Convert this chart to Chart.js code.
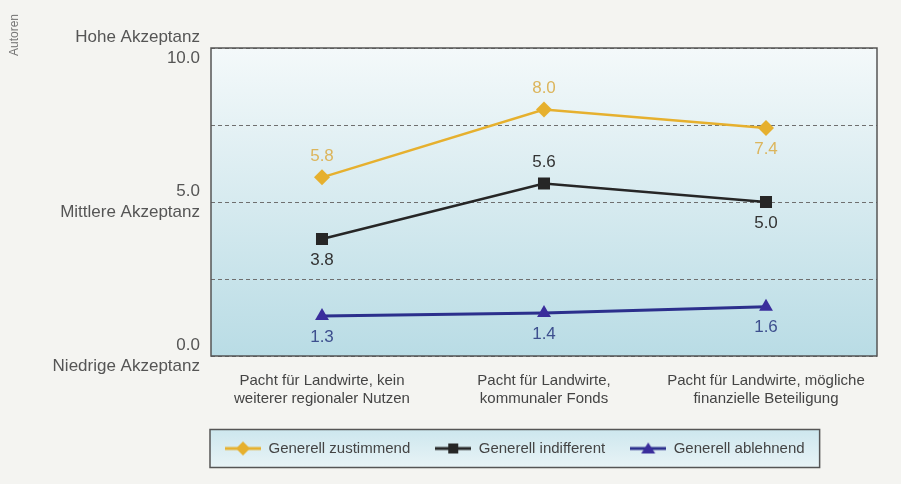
<!DOCTYPE html>
<html>
<head>
<meta charset="utf-8">
<script src="https://cdn.jsdelivr.net/npm/chart.js@4"></script>
<style>
  html, body { margin: 0; padding: 0; background: #f4f4f1; }
  #wrap { position: relative; width: 901px; height: 484px; }
  #autoren {
    position: absolute; left: 7px; top: 56px;
    transform: rotate(-90deg); transform-origin: left top;
    font: 12px "Liberation Sans", Arial, sans-serif; color: #777; white-space: nowrap;
  }
</style>
</head>
<body>
<div id="wrap">
  <canvas id="myChart" width="901" height="484"></canvas>
  <div id="autoren">Autoren</div>
</div>
<script>
const categories = [
  ["Pacht für Landwirte, kein", "weiterer regionaler Nutzen"],
  ["Pacht für Landwirte,", "kommunaler Fonds"],
  ["Pacht für Landwirte, mögliche", "finanzielle Beteiligung"],
];
const zustimmend = [5.8, 8.0, 7.4];
const indifferent = [3.8, 5.6, 5.0];
const ablehnend = [1.3, 1.4, 1.6];
const yTickLabels = {
  0: ["0.0", "Niedrige Akzeptanz"],
  5: ["5.0", "Mittlere Akzeptanz"],
  10: ["Hohe Akzeptanz", "10.0"],
};

const FONT = '"Liberation Sans", Arial, sans-serif';

// legend swatch: line with marker in the middle
function swatch(lineColor, markerColor, style) {
  const c = document.createElement("canvas");
  c.width = 36;
  c.height = 16;
  const g = c.getContext("2d");
  g.strokeStyle = lineColor;
  g.lineWidth = 3;
  g.beginPath();
  g.moveTo(0, 8);
  g.lineTo(36, 8);
  g.stroke();
  g.fillStyle = markerColor;
  g.beginPath();
  if (style === "diamond") {
    g.moveTo(18, 1); g.lineTo(25, 8); g.lineTo(18, 15); g.lineTo(11, 8);
  } else if (style === "square") {
    g.rect(13, 3, 10, 10);
  } else {
    g.moveTo(18, 2); g.lineTo(25, 13); g.lineTo(11, 13);
  }
  g.closePath();
  g.fill();
  return c;
}

const plotBackground = {
  id: "plotBackground",
  afterLayout(chart) {
    // nudge the legend a bit to the left, like in the original
    chart.legend.left -= 11;
    chart.legend.right -= 11;
  },
  beforeDraw(chart) {
    const { ctx, chartArea: a } = chart;
    ctx.save();
    const grad = ctx.createLinearGradient(0, a.top, 0, a.bottom);
    grad.addColorStop(0, "#f4f9fa");
    grad.addColorStop(1, "#b9dce5");
    ctx.fillStyle = grad;
    ctx.fillRect(a.left, a.top, a.right - a.left, a.bottom - a.top);

    // legend frame
    const boxes = chart.legend.legendHitBoxes;
    if (boxes && boxes.length) {
      const left = boxes[0].left - 15;
      const last = boxes[boxes.length - 1];
      const right = last.left + last.width + 15;
      const cy = boxes[0].top + boxes[0].height / 2;
      const lg = ctx.createLinearGradient(0, cy - 19, 0, cy + 19);
      lg.addColorStop(0, "#cde7ee");
      lg.addColorStop(1, "#e8f3f6");
      ctx.fillStyle = lg;
      ctx.fillRect(left, cy - 19, right - left, 38);
      ctx.strokeStyle = "#555";
      ctx.lineWidth = 1.5;
      ctx.strokeRect(left, cy - 19, right - left, 38);
    }
    ctx.restore();
  },
  beforeDatasetsDraw(chart) {
    const { ctx, chartArea: a } = chart;
    ctx.save();
    ctx.strokeStyle = "#555";
    ctx.lineWidth = 1.5;
    ctx.strokeRect(a.left, a.top, a.right - a.left, a.bottom - a.top);
    ctx.restore();
  },
};

const valueLabels = {
  id: "valueLabels",
  afterDatasetsDraw(chart) {
    const ctx = chart.ctx;
    chart.data.datasets.forEach((ds, i) => {
      const meta = chart.getDatasetMeta(i);
      meta.data.forEach((pt, j) => {
        const below = ds.labelPos[j] === "below";
        ctx.save();
        ctx.font = "17px " + FONT;
        ctx.fillStyle = ds.labelColor;
        ctx.textAlign = "center";
        ctx.textBaseline = "middle";
        ctx.fillText(ds.data[j].toFixed(1), pt.x, pt.y + (below ? 21 : -21));
        ctx.restore();
      });
    });
  },
};

const chart1 = document.getElementById("myChart");

new Chart(chart1, {
  type: "line",
  data: {
    labels: categories,
    datasets: [
      {
        label: "Generell zustimmend",
        data: zustimmend,
        borderColor: "#e6b02e",
        backgroundColor: "#e6b02e",
        borderWidth: 2.5,
        pointStyle: "rectRot",
        pointRadius: 8,
        pointBorderWidth: 0,
        labelColor: "#dcb55c",
        labelPos: ["above", "above", "below"],
        swatch: swatch("#e6b02e", "#e6b02e", "diamond"),
      },
      {
        label: "Generell indifferent",
        data: indifferent,
        borderColor: "#262626",
        backgroundColor: "#262626",
        borderWidth: 2.5,
        pointStyle: "rect",
        pointRadius: 8.5,
        pointBorderWidth: 0,
        labelColor: "#333",
        labelPos: ["below", "above", "below"],
        swatch: swatch("#262626", "#262626", "square"),
      },
      {
        label: "Generell ablehnend",
        data: ablehnend,
        borderColor: "#2b2f8c",
        backgroundColor: "#3a2d9c",
        borderWidth: 3,
        pointStyle: "triangle",
        pointRadius: 8,
        pointBorderWidth: 0,
        labelColor: "#3d4f8e",
        labelPos: ["below", "below", "below"],
        swatch: swatch("#2b2f8c", "#3a2d9c", "triangle"),
      },
    ],
  },
  options: {
    responsive: false,
    animation: false,
    layout: {
      padding: { top: 48, right: 24, left: 0, bottom: 18 },
    },
    plugins: {
      tooltip: { enabled: false },
      legend: {
        position: "bottom",
        fullSize: false,
        align: "start",
        labels: {
          usePointStyle: true,
          pointStyleWidth: 36,
          padding: 25,
          color: "#444",
          font: { family: FONT, size: 15 },
          generateLabels: (chart) =>
            chart.data.datasets.map((ds, i) => ({
              text: ds.label,
              pointStyle: ds.swatch,
              fillStyle: ds.borderColor,
              strokeStyle: ds.borderColor,
              lineWidth: 0,
              fontColor: "#444",
              hidden: false,
              datasetIndex: i,
            })),
        },
      },
    },
    scales: {
      x: {
        offset: true,
        afterFit: (scale) => {
          scale.height = 60;
        },
        grid: { display: false },
        border: { display: false },
        ticks: {
          color: "#444",
          padding: 8,
          font: { family: FONT, size: 15, lineHeight: 1.2 },
        },
      },
      y: {
        min: 0,
        max: 10,
        afterFit: (scale) => {
          scale.width = 211;
        },
        grid: { color: "#6f6f6f", lineWidth: 1, drawTicks: false },
        border: { display: false, dash: [4, 3] },
        ticks: {
          stepSize: 2.5,
          autoSkip: false,
          padding: 11,
          color: "#555",
          font: { family: FONT, size: 17, lineHeight: 1.2 },
          callback: (v) => yTickLabels[v] || "",
        },
      },
    },
  },
  plugins: [plotBackground, valueLabels],
});
</script>
</body>
</html>
